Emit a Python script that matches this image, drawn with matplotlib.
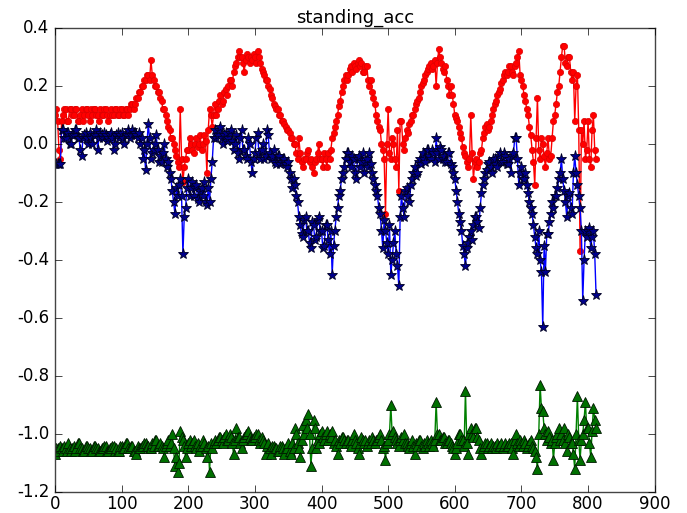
import numpy as np
import matplotlib
matplotlib.use("Agg")
import matplotlib.pyplot as plt

# values read every 2 samples (x = 0, 2, ..., 812)
sample_step = 2

red_vals = [
    0.10, 0.12, 0.08, -0.02, -0.05, 0.08, 0.10, 0.12, 0.12, 0.08, 0.08, 0.12, 0.12, 0.10, 0.10, 0.12, 0.12, 0.08, 0.08, 0.10,
    0.12, 0.08, 0.10, 0.12, 0.12, 0.10, 0.08, 0.12, 0.10, 0.12, 0.12, 0.10, 0.10, 0.08, 0.12, 0.10, 0.10, 0.12, 0.12, 0.10,
    0.08, 0.10, 0.12, 0.10, 0.10, 0.12, 0.12, 0.10, 0.10, 0.12, 0.12, 0.10, 0.10, 0.12, 0.12, 0.10, 0.12, 0.14, 0.14, 0.12,
    0.14, 0.16, 0.16, 0.18, 0.18, 0.20, 0.20, 0.22, 0.22, 0.24, 0.24, 0.22, 0.29, 0.24, 0.22, 0.20, 0.20, 0.18, 0.18, 0.16,
    0.15, 0.12, 0.12, 0.10, 0.08, 0.06, 0.05, 0.02, 0.02, 0.00, -0.02, -0.04, -0.06, -0.08, 0.12, -0.05, -0.13, -0.08, -0.05, -0.02,
    -0.02, 0.02, 0.00, -0.02, -0.03, 0.00, 0.02, -0.01, 0.00, 0.03, -0.02, 0.00, 0.03, 0.01, -0.10, 0.05, 0.12, 0.10, 0.06, 0.10,
    0.14, 0.10, 0.12, 0.15, 0.17, 0.14, 0.15, 0.18, 0.19, 0.17, 0.20, 0.22, 0.22, 0.20, 0.25, 0.27, 0.28, 0.30, 0.32, 0.30,
    0.30, 0.28, 0.25, 0.29, 0.31, 0.30, 0.28, 0.30, 0.29, 0.31, 0.30, 0.28, 0.32, 0.30, 0.28, 0.26, 0.25, 0.24, 0.22, 0.22,
    0.20, 0.19, 0.17, 0.16, 0.14, 0.13, 0.12, 0.12, 0.10, 0.10, 0.08, 0.08, 0.07, 0.06, 0.05, 0.05, 0.04, 0.02, 0.02, 0.00,
    0.00, -0.03, -0.05, 0.02, -0.03, -0.06, -0.08, -0.05, -0.05, -0.03, -0.02, -0.06, -0.05, -0.08, -0.10, -0.06, -0.05, -0.03, 0.00, -0.05,
    -0.05, -0.08, -0.03, -0.05, -0.08, -0.03, -0.05, -0.02, 0.02, 0.04, 0.06, 0.08, 0.10, 0.13, 0.15, 0.18, 0.20, 0.22, 0.24, 0.22,
    0.24, 0.26, 0.27, 0.25, 0.28, 0.27, 0.26, 0.28, 0.29, 0.27, 0.28, 0.25, 0.25, 0.27, 0.27, 0.22, 0.20, 0.22, 0.18, 0.16,
    0.14, 0.10, 0.08, 0.06, 0.05, 0.00, -0.02, -0.05, -0.24, 0.00, 0.12, -0.03, -0.05, 0.02, 0.00, -0.05, -0.08, 0.05, -0.16, 0.08,
    0.08, 0.00, -0.02, 0.02, 0.05, 0.04, 0.07, 0.08, 0.10, 0.10, 0.12, 0.14, 0.15, 0.16, 0.18, 0.20, 0.21, 0.22, 0.24, 0.25,
    0.26, 0.27, 0.28, 0.26, 0.27, 0.29, 0.20, 0.28, 0.33, 0.30, 0.28, 0.26, 0.25, 0.27, 0.22, 0.20, 0.17, 0.20, 0.17, 0.14,
    0.10, 0.09, 0.08, 0.06, 0.04, 0.02, -0.01, -0.03, -0.04, -0.06, -0.08, -0.05, 0.10, -0.03, -0.12, -0.06, -0.05, -0.08, -0.06, -0.03,
    -0.02, 0.02, 0.04, 0.06, 0.07, 0.05, 0.06, 0.08, 0.10, 0.12, 0.14, 0.15, 0.17, 0.18, 0.19, 0.21, 0.22, 0.24, 0.25, 0.24,
    0.25, 0.27, 0.27, 0.25, 0.24, 0.27, 0.28, 0.30, 0.32, 0.24, 0.22, 0.20, 0.17, 0.15, 0.12, 0.10, 0.06, 0.03, -0.02, -0.06,
    -0.14, 0.02, 0.16, -0.02, -0.05, 0.02, 0.00, -0.04, -0.08, -0.03, 0.02, -0.05, -0.04, 0.02, 0.08, 0.10, 0.14, 0.18, 0.20, 0.25,
    0.30, 0.34, 0.34, 0.28, 0.27, 0.30, 0.30, 0.25, 0.22, 0.25, 0.08, 0.20, 0.24, 0.05, -0.37, 0.05, 0.00, 0.08, -0.05, -0.02,
    0.08, -0.05, -0.08, 0.05, 0.10, -0.02, -0.05,
]

blue_vals = [
    -0.07, -0.07, -0.07, -0.07, -0.07, 0.05, 0.05, 0.02, 0.02, 0.04, 0.04, 0.00, 0.00, 0.03, 0.03, 0.05, 0.05, 0.02, 0.02, -0.02,
    -0.04, 0.02, 0.03, 0.04, 0.02, 0.00, 0.04, 0.02, 0.00, 0.03, 0.03, 0.05, -0.02, 0.02, 0.04, 0.03, 0.02, 0.04, 0.03, 0.01,
    0.02, 0.03, 0.04, 0.02, -0.02, 0.00, 0.03, 0.04, 0.02, 0.03, 0.04, 0.02, 0.00, 0.03, 0.03, 0.05, 0.02, 0.03, 0.05, 0.04,
    0.04, 0.03, 0.02, 0.04, 0.00, 0.02, -0.05, -0.02, -0.09, 0.00, 0.07, 0.02, -0.05, -0.03, -0.02, 0.00, 0.03, -0.02, -0.06, -0.04,
    -0.06, -0.03, 0.00, -0.05, -0.08, -0.06, -0.10, -0.12, -0.16, -0.20, -0.24, -0.15, -0.18, -0.14, -0.12, -0.18, -0.38, -0.25, -0.22, -0.15,
    -0.12, -0.18, -0.15, -0.13, -0.18, -0.15, -0.14, -0.19, -0.20, -0.16, -0.15, -0.18, -0.13, -0.20, -0.21, -0.15, -0.20, -0.12, -0.06, 0.02,
    0.05, 0.02, 0.03, 0.05, 0.06, 0.02, 0.00, 0.03, 0.04, 0.01, 0.02, 0.04, 0.05, 0.01, -0.02, 0.00, 0.03, -0.03, -0.05, 0.02,
    0.05, -0.02, -0.02, -0.04, -0.05, 0.02, 0.00, -0.06, -0.10, -0.05, -0.03, 0.02, 0.04, -0.03, -0.05, -0.02, 0.00, -0.05, -0.04, 0.05,
    0.03, -0.03, -0.05, -0.04, -0.02, -0.06, -0.07, -0.04, -0.04, -0.07, -0.06, -0.05, -0.05, -0.07, -0.08, -0.06, -0.10, -0.12, -0.15, -0.12,
    -0.14, -0.18, -0.20, -0.25, -0.28, -0.31, -0.32, -0.26, -0.25, -0.30, -0.30, -0.34, -0.36, -0.27, -0.28, -0.33, -0.32, -0.26, -0.25, -0.30,
    -0.30, -0.36, -0.35, -0.28, -0.28, -0.33, -0.38, -0.30, -0.45, -0.35, -0.30, -0.25, -0.22, -0.18, -0.16, -0.12, -0.10, -0.08, -0.05, -0.03,
    -0.03, -0.06, -0.08, -0.04, -0.05, -0.10, -0.12, -0.05, -0.04, -0.08, -0.06, -0.03, -0.10, -0.06, -0.05, -0.08, -0.03, -0.07, -0.10, -0.12,
    -0.14, -0.16, -0.18, -0.22, -0.24, -0.30, -0.36, -0.26, -0.30, -0.34, -0.38, -0.28, -0.45, -0.40, -0.34, -0.30, -0.38, -0.42, -0.49, -0.25,
    -0.18, -0.22, -0.25, -0.16, -0.15, -0.18, -0.20, -0.14, -0.12, -0.10, -0.08, -0.11, -0.10, -0.06, -0.05, -0.07, -0.03, -0.05, -0.06, -0.02,
    -0.02, -0.04, -0.05, -0.02, -0.03, -0.06, 0.02, -0.03, -0.05, -0.01, -0.02, -0.05, -0.04, -0.06, -0.06, -0.03, -0.03, -0.07, -0.08, -0.10,
    -0.12, -0.16, -0.20, -0.24, -0.27, -0.30, -0.35, -0.38, -0.42, -0.36, -0.34, -0.32, -0.30, -0.33, -0.28, -0.25, -0.25, -0.27, -0.29, -0.22,
    -0.17, -0.14, -0.12, -0.10, -0.09, -0.07, -0.06, -0.08, -0.10, -0.05, -0.05, -0.07, -0.08, -0.04, -0.03, -0.06, -0.06, -0.03, -0.04, -0.07,
    -0.07, -0.05, -0.10, -0.04, -0.03, 0.02, 0.02, -0.05, -0.14, -0.10, -0.08, -0.12, -0.12, -0.10, -0.14, -0.17, -0.20, -0.22, -0.24, -0.28,
    -0.32, -0.36, -0.38, -0.30, -0.40, -0.44, -0.63, -0.35, -0.44, -0.31, -0.31, -0.27, -0.24, -0.20, -0.22, -0.18, -0.18, -0.15, -0.12, -0.10,
    -0.05, -0.12, -0.16, -0.20, -0.25, -0.18, -0.17, -0.22, -0.24, -0.10, -0.04, -0.10, -0.14, -0.18, -0.22, -0.30, -0.54, -0.40, -0.30, -0.32,
    -0.30, -0.29, -0.36, -0.32, -0.30, -0.38, -0.52,
]

green_vals = [
    -1.07, -1.05, -1.05, -1.06, -1.04, -1.05, -1.06, -1.04, -1.05, -1.06, -1.03, -1.05, -1.06, -1.05, -1.04, -1.06, -1.05, -1.03, -1.03, -1.05,
    -1.05, -1.06, -1.06, -1.04, -1.04, -1.05, -1.05, -1.06, -1.06, -1.04, -1.04, -1.05, -1.05, -1.06, -1.06, -1.05, -1.05, -1.04, -1.04, -1.06,
    -1.06, -1.05, -1.05, -1.04, -1.04, -1.06, -1.05, -1.06, -1.06, -1.04, -1.04, -1.05, -1.05, -1.03, -1.03, -1.05, -1.05, -1.04, -1.04, -1.06,
    -1.06, -1.07, -1.04, -1.05, -1.05, -1.04, -1.04, -1.03, -1.03, -1.04, -1.04, -1.05, -1.05, -1.03, -1.04, -1.02, -1.02, -1.04, -1.04, -1.03,
    -1.04, -1.05, -1.08, -1.04, -1.03, -1.02, -1.04, -1.03, -1.00, -1.05, -1.11, -1.08, -1.13, -1.10, -0.99, -1.01, -1.02, -1.04, -1.08, -1.05,
    -1.03, -1.02, -1.04, -1.03, -1.02, -1.04, -1.05, -1.03, -1.06, -1.04, -1.04, -1.02, -1.03, -1.05, -1.08, -1.04, -1.13, -1.03, -1.05, -1.03,
    -1.02, -1.03, -1.02, -1.01, -1.01, -1.02, -1.03, -1.01, -1.00, -1.02, -1.02, -1.00, -1.01, -1.03, -1.07, -1.02, -0.98, -1.01, -1.01, -1.03,
    -1.05, -1.02, -1.01, -1.00, -1.00, -0.99, -1.01, -1.02, -1.02, -1.01, -1.01, -1.00, -1.00, -1.02, -1.03, -1.01, -1.02, -1.03, -1.07, -1.04,
    -1.03, -1.05, -1.07, -1.04, -1.04, -1.05, -1.05, -1.06, -1.06, -1.04, -1.04, -1.05, -1.07, -1.05, -1.05, -1.03, -1.06, -1.07, -1.03, -1.05,
    -0.98, -1.00, -1.03, -1.05, -1.08, -1.02, -0.97, -1.00, -0.95, -0.98, -0.93, -1.00, -1.11, -1.05, -0.95, -0.98, -1.05, -1.02, -1.03, -1.00,
    -0.99, -1.01, -1.02, -1.00, -0.99, -1.02, -1.00, -1.01, -0.99, -1.03, -1.02, -1.04, -1.07, -1.02, -1.03, -1.01, -1.01, -1.02, -1.03, -1.02,
    -1.02, -1.03, -1.04, -1.02, -1.00, -1.02, -1.03, -1.05, -1.07, -1.03, -1.01, -1.02, -1.03, -1.02, -1.04, -1.03, -1.02, -1.03, -1.01, -1.02,
    -1.03, -1.02, -1.02, -1.01, -1.00, -1.02, -1.05, -1.04, -1.09, -1.03, -1.02, -1.00, -0.90, -1.00, -0.99, -1.01, -1.02, -1.03, -1.04, -1.02,
    -1.01, -1.02, -1.00, -1.03, -1.03, -1.04, -1.05, -1.03, -1.02, -1.04, -1.07, -1.03, -1.04, -1.02, -1.02, -1.04, -1.05, -1.03, -1.04, -1.02,
    -1.03, -1.04, -1.02, -1.03, -1.04, -1.02, -0.89, -1.00, -1.00, -1.02, -1.02, -1.01, -1.01, -1.03, -1.03, -1.02, -1.02, -1.03, -1.04, -1.05,
    -1.07, -1.05, -1.03, -1.00, -1.00, -1.02, -1.02, -1.04, -0.85, -1.03, -1.07, -1.00, -0.98, -1.00, -1.01, -0.98, -0.98, -1.01, -1.02, -1.05,
    -1.07, -1.05, -1.04, -1.03, -1.03, -1.05, -1.04, -1.03, -1.05, -1.04, -1.04, -1.05, -1.03, -1.04, -1.04, -1.03, -1.05, -1.04, -1.03, -1.04,
    -1.04, -1.03, -1.03, -1.05, -1.07, -1.02, -1.00, -1.03, -1.04, -1.02, -1.03, -1.04, -1.02, -1.03, -1.05, -1.04, -1.03, -1.02, -1.04, -1.05,
    -1.06, -1.08, -1.12, -1.00, -0.83, -0.91, -0.92, -0.98, -1.00, -1.02, -0.99, -1.01, -1.03, -1.02, -1.09, -1.03, -1.01, -1.00, -0.98, -1.02,
    -1.00, -1.02, -0.98, -1.03, -1.06, -1.00, -1.01, -1.03, -1.03, -1.07, -1.12, -1.00, -0.87, -1.02, -1.09, -1.02, -1.00, -0.95, -0.89, -0.98,
    -0.98, -1.03, -1.08, -0.99, -0.91, -0.95, -0.98,
]

x_ticks = [0, 100, 200, 300, 400, 500, 600, 700, 800, 900]
y_ticks = [-1.2, -1.0, -0.8, -0.6, -0.4, -0.2, 0.0, 0.2, 0.4]

plt.style.use("classic")
plt.rcParams["axes.unicode_minus"] = False
plt.rcParams["font.family"] = ["DejaVu Sans"]

fig = plt.figure(figsize=(6.87, 5.13), dpi=100, facecolor="white")
ax = fig.add_axes([0.080, 0.041, 0.873, 0.904])


def xs_for(vals):
    return np.arange(len(vals)) * sample_step


ax.plot(xs_for(red_vals), red_vals, color="#ff0000", lw=1.0, marker="o", ms=4.5,
        mfc="#ff0000", mec="#dd0000", mew=0.5)
ax.plot(xs_for(blue_vals), blue_vals, color="#0000ff", lw=1.0, marker="*", ms=8,
        mfc="#00008b", mec="#000022", mew=0.6)
ax.plot(xs_for(green_vals), green_vals, color="#008000", lw=1.0, marker="^", ms=6.5,
        mfc="#007000", mec="#001800", mew=0.6)

ax.set_xlim(0, 900)
ax.set_ylim(-1.2, 0.4)
ax.set_xticks(x_ticks)
ax.set_yticks(y_ticks)
ax.set_yticklabels([f"{v:.1f}" for v in y_ticks])
ax.tick_params(labelsize=12, direction="in", length=5)
ax.tick_params(axis="x", pad=2)
for sp in ax.spines.values():
    sp.set_color("#444444")
ax.set_title("standing_acc", fontsize=13, pad=4)

fig.savefig("out.png", dpi=100, facecolor="white")
